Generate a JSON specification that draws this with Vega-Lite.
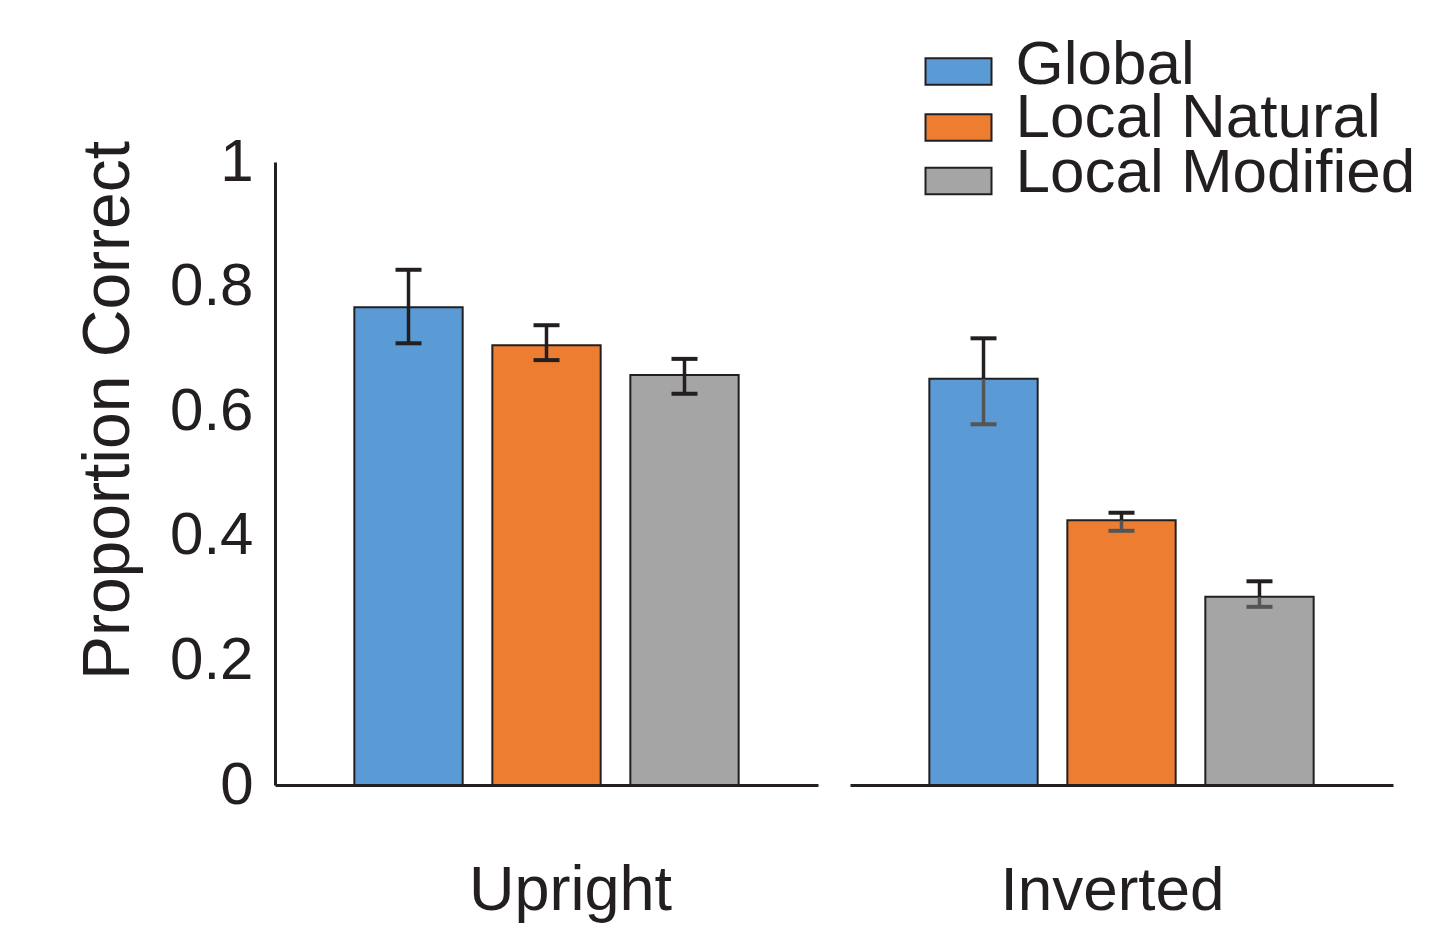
{
  "$schema": "https://vega.github.io/schema/vega-lite/v6.json",
  "padding": {"left": 75, "top": 33, "right": 2, "bottom": 2},
  "bounds": "flush",
  "data": {"values": [
    {"cond": "Upright", "group": "Global", "mean": 0.767, "lo": 0.709, "hi": 0.827},
    {"cond": "Upright", "group": "Local Natural", "mean": 0.706, "lo": 0.682, "hi": 0.738},
    {"cond": "Upright", "group": "Local Modified", "mean": 0.658, "lo": 0.628, "hi": 0.684},
    {"cond": "Inverted", "group": "Global", "mean": 0.652, "lo": 0.579, "hi": 0.717},
    {"cond": "Inverted", "group": "Local Natural", "mean": 0.425, "lo": 0.408, "hi": 0.437},
    {"cond": "Inverted", "group": "Local Modified", "mean": 0.302, "lo": 0.286, "hi": 0.327}
  ]},
  "facet": {
    "column": {
      "field": "cond", "type": "nominal", "sort": ["Upright", "Inverted"],
      "header": {"title": null, "labels": false}
    }
  },
  "spacing": 32,
  "resolve": {"scale": {"x": "shared"}},
  "spec": {
    "width": 543,
    "height": 623,
    "encoding": {
      "x": {
        "field": "group", "type": "nominal",
        "sort": ["Global", "Local Natural", "Local Modified"],
        "scale": {"paddingInner": 0.215, "paddingOuter": 0.575},
        "axis": {"labels": false, "ticks": false, "title": null, "domainWidth": 3, "domainColor": "#231f20"}
      },
      "color": {
        "field": "group", "type": "nominal",
        "scale": {"domain": ["Global", "Local Natural", "Local Modified"], "range": ["#5b9bd5", "#ed7d31", "#a5a5a5"]},
        "legend": null
      }
    },
    "layer": [
      {
        "mark": {"type": "bar", "stroke": "#231f20", "strokeWidth": 2},
        "encoding": {
          "y": {
            "field": "mean", "type": "quantitative",
            "scale": {"domain": [0, 1]},
            "axis": {
              "title": "Proportion Correct", "values": [0, 0.2, 0.4, 0.6, 0.8, 1], "format": "~g",
              "grid": false, "ticks": false, "domainWidth": 3, "domainColor": "#231f20",
              "labelFontSize": 60, "labelFont": "Liberation Sans", "labelColor": "#231f20", "labelPadding": 22,
              "titleFontSize": 66, "titleFont": "Liberation Sans", "titleFontWeight": "normal", "titleColor": "#231f20", "titlePadding": 27, "titleY": 248
            }
          }
        }
      },
      {
        "mark": {"type": "rule", "strokeWidth": 3.5},
        "encoding": {
          "y": {"field": "lo", "type": "quantitative"},
          "y2": {"field": "mean"},
          "color": {"condition": {"test": "datum.cond === 'Inverted'", "value": "#555555"}, "value": "#231f20"}
        }
      },
      {
        "mark": {"type": "rule", "strokeWidth": 3.5},
        "encoding": {
          "y": {"field": "mean", "type": "quantitative"},
          "y2": {"field": "hi"},
          "color": {"value": "#231f20"}
        }
      },
      {
        "mark": {"type": "tick", "size": 26, "thickness": 4, "opacity": 1},
        "encoding": {
          "y": {"field": "lo", "type": "quantitative"},
          "color": {"condition": {"test": "datum.cond === 'Inverted'", "value": "#555555"}, "value": "#231f20"}
        }
      },
      {
        "mark": {"type": "tick", "size": 26, "thickness": 4, "opacity": 1},
        "encoding": {"y": {"field": "hi", "type": "quantitative"}, "color": {"value": "#231f20"}}
      },
      {
        "transform": [{"filter": "datum.cond === 'Upright' && datum.group === 'Local Natural'"}],
        "mark": {"type": "text", "align": "center", "baseline": "alphabetic", "fontSize": 63, "font": "Liberation Sans", "xOffset": 24},
        "encoding": {"y": {"datum": -0.2006, "type": "quantitative"}, "text": {"field": "cond"}, "color": {"value": "#231f20"}}
      },
      {
        "transform": [{"filter": "datum.cond === 'Inverted' && datum.group === 'Local Natural'"}],
        "mark": {"type": "text", "align": "center", "baseline": "alphabetic", "fontSize": 62, "font": "Liberation Sans", "xOffset": -9},
        "encoding": {"y": {"datum": -0.2006, "type": "quantitative"}, "text": {"field": "cond"}, "color": {"value": "#231f20"}}
      },
      {
        "transform": [{"filter": "datum.cond === 'Inverted' && datum.group === 'Global'"}],
        "mark": {"type": "point", "shape": "M-1,-0.4H1V0.4H-1Z", "size": 4356, "filled": true, "opacity": 1, "stroke": "#231f20", "strokeWidth": 2, "xOffset": -25},
        "encoding": {"y": {"datum": 1.1453, "type": "quantitative"}}
      },
      {
        "transform": [{"filter": "datum.cond === 'Inverted' && datum.group === 'Local Natural'"}],
        "mark": {"type": "point", "shape": "M-1,-0.4H1V0.4H-1Z", "size": 4356, "filled": true, "opacity": 1, "stroke": "#231f20", "strokeWidth": 2, "xOffset": -25},
        "encoding": {"x": {"datum": "Global"}, "y": {"datum": 1.0554, "type": "quantitative"}}
      },
      {
        "transform": [{"filter": "datum.cond === 'Inverted' && datum.group === 'Local Modified'"}],
        "mark": {"type": "point", "shape": "M-1,-0.4H1V0.4H-1Z", "size": 4356, "filled": true, "opacity": 1, "stroke": "#231f20", "strokeWidth": 2, "xOffset": -25},
        "encoding": {"x": {"datum": "Global"}, "y": {"datum": 0.9695, "type": "quantitative"}}
      },
      {
        "transform": [{"filter": "datum.cond === 'Inverted' && datum.group === 'Global'"}],
        "mark": {"type": "text", "align": "left", "baseline": "middle", "fontSize": 62, "font": "Liberation Sans", "xOffset": 32},
        "encoding": {"x": {"datum": "Global"}, "y": {"datum": 1.1557, "type": "quantitative"}, "text": {"field": "group"}, "color": {"value": "#231f20"}}
      },
      {
        "transform": [{"filter": "datum.cond === 'Inverted' && datum.group === 'Local Natural'"}],
        "mark": {"type": "text", "align": "left", "baseline": "middle", "fontSize": 62, "font": "Liberation Sans", "xOffset": 32},
        "encoding": {"x": {"datum": "Global"}, "y": {"datum": 1.0706, "type": "quantitative"}, "text": {"field": "group"}, "color": {"value": "#231f20"}}
      },
      {
        "transform": [{"filter": "datum.cond === 'Inverted' && datum.group === 'Local Modified'"}],
        "mark": {"type": "text", "align": "left", "baseline": "middle", "fontSize": 62, "font": "Liberation Sans", "xOffset": 32},
        "encoding": {"x": {"datum": "Global"}, "y": {"datum": 0.9823, "type": "quantitative"}, "text": {"field": "group"}, "color": {"value": "#231f20"}}
      }
    ]
  },
  "config": {"view": {"stroke": null}, "font": "Liberation Sans"}
}
